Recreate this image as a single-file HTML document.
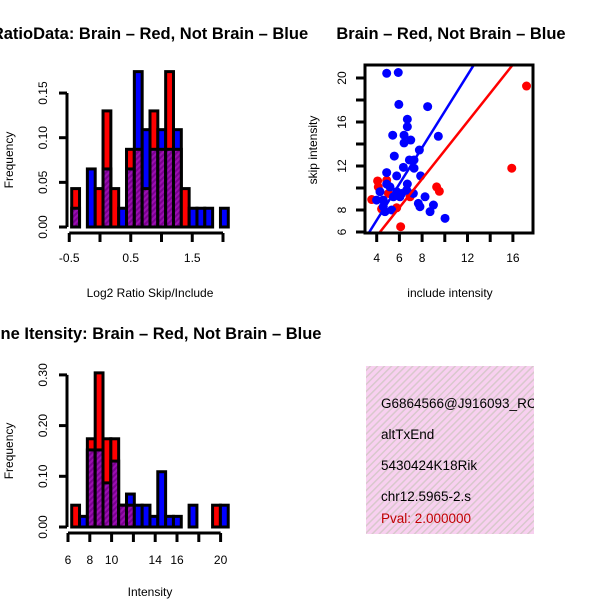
<!DOCTYPE html>
<html><head><meta charset="utf-8"><style>
body{margin:0;background:#fff}
svg{display:block;font-family:"Liberation Sans",Helvetica,sans-serif}
</style></head><body>
<svg id="s" width="600" height="600" viewBox="0 0 600 600" xmlns="http://www.w3.org/2000/svg">
<defs>
<pattern id="purp" patternUnits="userSpaceOnUse" width="4" height="4" patternTransform="rotate(45)">
<rect width="4" height="4" fill="#9a10b0"/><rect width="2" height="4" fill="#7a0090"/></pattern>
<pattern id="pink" patternUnits="userSpaceOnUse" width="5" height="5" patternTransform="rotate(45)">
<rect width="5" height="5" fill="#f8d0f0"/><rect width="1.5" height="5" fill="#d8c8cc"/></pattern>
<clipPath id="scClip"><rect x="365" y="65" width="168" height="168"/></clipPath>
<clipPath id="txClip"><rect x="366" y="366" width="168" height="168"/></clipPath>
</defs>
<g id="h1"></g>
<g id="sc"></g>
<g id="h2"></g>
<g>
<rect x="366" y="366" width="168" height="168" fill="url(#pink)"/>
<g clip-path="url(#txClip)" font-size="13.5">
<text x="381" y="408">G6864566@J916093_RC</text>
<text x="381" y="439">altTxEnd</text>
<text x="381" y="470">5430424K18Rik</text>
<text x="381" y="501">chr12.5965-2.s</text>
<text x="381" y="523" fill="#c00000">Pval: 2.000000</text>
</g></g>
</svg>
<script>
// Ratio histogram data
const h1Red=[0.043,0,0,0.043,0.13,0.043,0,0.087,0.087,0.043,0.13,0.087,0.174,0.087,0.043,0,0,0,0,0];
const h1Blue=[0.021,0,0.065,0,0.065,0,0.021,0.065,0.174,0.109,0.087,0.109,0.087,0.109,0,0.021,0.021,0.021,0,0.021];
const h1Start=-0.46, h1Width=0.1273;
const h1XTicks=[-0.5,0,0.5,1,1.5,2];
const h1XLabels=["-0.5","","0.5","","1.5",""];
const h1YTicks=[0,0.05,0.10,0.15];
const h1YLabels=["0.00","0.05","0.10","0.15"];
// Intensity histogram data
const h2Red=[0.043,0,0.174,0.304,0.174,0.174,0.043,0.043,0,0,0,0,0,0,0,0,0,0,0.043,0];
const h2Blue=[0,0.021,0.152,0.152,0.087,0.13,0.043,0.065,0.043,0.043,0.021,0.109,0.021,0.021,0,0.043,0,0,0,0.043];
const h2Start=6.34, h2Width=0.718;
const h2XTicks=[6,8,10,12,14,16,18,20];
const h2XLabels=["6","8","10","","14","16","","20"];
const h2YTicks=[0,0.1,0.2,0.3];
const h2YLabels=["0.00","0.10","0.20","0.30"];
// Scatter data
const blueX=[4.88,5.90,5.95,8.49,6.70,6.70,5.41,6.41,7.0,6.41,9.43,7.76,5.55,6.88,7.29,6.35,7.29,4.88,5.76,7.87,6.70,4.88,4.29,5.17,5.76,6.20,5.47,4.58,3.99,7.23,8.26,7.67,7.81,9.0,8.7,4.58,5.32,4.73,10.02,6.05,6.64];
const blueY=[20.43,20.5,17.6,17.4,16.25,15.57,14.8,14.8,14.36,14.1,14.7,13.45,12.9,12.55,12.55,11.88,11.8,11.4,11.1,11.1,10.36,10.36,9.66,10.1,9.66,9.5,9.2,8.9,8.9,9.5,9.2,8.6,8.3,8.45,7.85,8.3,8.0,7.85,7.24,9.2,9.8];
const redX=[3.56,4.08,4.88,4.14,5.03,6.94,9.28,9.52,6.11,15.9,17.2,4.43,5.76];
const redY=[8.95,10.64,10.7,10.1,9.5,9.2,10.1,9.7,6.48,11.8,19.27,8.1,8.2];
const blueFit=[1.65,0.47];
const redFit=[1.30,0.42];
const scXTicks=[4,6,8,10,12,14,16];
const scXLabels=["4","6","8","","12","","16"];
const scYTicks=[6,8,10,12,14,16,18,20];
const scYLabels=["6","8","","12","","16","","20"];

const NS="http://www.w3.org/2000/svg";
function mk(p,tag,a,txt){const e=document.createElementNS(NS,tag);for(const k in a)e.setAttribute(k,a[k]);if(txt!==undefined)e.textContent=txt;p.appendChild(e);return e;}

function hist(g,red,blue,start,w,xs,ys,xT,xL,yT,yL,axY,tickY,title,titleY,xlab,xlabY,bname){
  for(let i=0;i<red.length;i++){
    const r=red[i],b=blue[i];const x0=xs(start+i*w),x1=xs(start+(i+1)*w);
    const hi=Math.max(r,b),lo=Math.min(r,b);
    if(hi>0){
      const e=mk(g,'rect',{x:x0,y:ys(hi),width:x1-x0,height:ys(0)-ys(hi),fill:r>=b?'#ff0000':'#0000ff',stroke:'#000','stroke-width':3});
      
      
    }
    if(lo>0){
      const e=mk(g,'rect',{x:x0,y:ys(lo),width:x1-x0,height:ys(0)-ys(lo),fill:'url(#purp)',stroke:'#000','stroke-width':3});
      
      
    }
  }
  const ya=mk(g,'line',{x1:67,x2:67,y1:ys(yT[0]),y2:ys(yT[yT.length-1]),stroke:'#000','stroke-width':3});
  
  
  yT.forEach((v,i)=>{mk(g,'line',{x1:59,x2:67,y1:ys(v),y2:ys(v),stroke:'#000','stroke-width':3});
    const t=mk(g,'text',{x:47,y:ys(v),'font-size':12,'text-anchor':'middle',transform:`rotate(-90 47 ${ys(v)})`},yL[i]);
    
    });
  const xa=mk(g,'line',{x1:xs(xT[0]),x2:xs(xT[xT.length-1]),y1:axY,y2:axY,stroke:'#000','stroke-width':3});
  
  
  xT.forEach((v,i)=>{mk(g,'line',{x1:xs(v),x2:xs(v),y1:axY,y2:axY+9,stroke:'#000','stroke-width':3});
    const t=mk(g,'text',{x:xs(v),y:tickY,'font-size':12,'text-anchor':'middle'},xL[i]);
    
    });
  const tt=mk(g,'text',{x:150,y:titleY,'font-size':16.5,'font-weight':'bold','text-anchor':'middle'},title);
  
  
  const xl=mk(g,'text',{x:150,y:xlabY,'font-size':12,'text-anchor':'middle'},xlab);
  
  
  const cy=(ys(yT[0])+ys(yT[yT.length-1]))/2;
  const yl=mk(g,'text',{x:13,y:cy,'font-size':12,'text-anchor':'middle',transform:`rotate(-90 13 ${cy})`},'Frequency');
  
  
}
const h1x=v=>100+v*61.5, h1y=v=>227-v*893;
hist(document.getElementById('h1'),h1Red,h1Blue,h1Start,h1Width,h1x,h1y,h1XTicks,h1XLabels,h1YTicks,h1YLabels,233,262,'RatioData: Brain \u2013 Red, Not Brain \u2013 Blue',39,'Log2 Ratio Skip/Include',297,'ratio');
const h2x=v=>68+(v-6)*10.9, h2y=v=>527-v*507;
hist(document.getElementById('h2'),h2Red,h2Blue,h2Start,h2Width,h2x,h2y,h2XTicks,h2XLabels,h2YTicks,h2YLabels,533,564,'Gene Itensity: Brain \u2013 Red, Not Brain \u2013 Blue',339,'Intensity',596,'intensity');

// scatter
const sg=document.getElementById('sc');
const sx=v=>376.7+(v-4)*11.35, sy=v=>232-(v-6)*11;
const cg=mk(sg,'g',{'clip-path':'url(#scClip)'});
redX.forEach((v,i)=>{const c=mk(cg,'circle',{cx:sx(v),cy:sy(redY[i]),r:4.5,fill:'#ff0000'});
  
  });
blueX.forEach((v,i)=>{const c=mk(cg,'circle',{cx:sx(v),cy:sy(blueY[i]),r:4.5,fill:'#0000ff'});
  
  });
[[blueFit,'#0000ff','blue-fit-line'],[redFit,'#ff0000','red-fit-line']].forEach(([f,col,n])=>{
  const l=mk(cg,'line',{x1:sx(2),y1:sy(f[0]*2+f[1]),x2:sx(20),y2:sy(f[0]*20+f[1]),stroke:col,'stroke-width':2.5});
  
  });
const bx=mk(sg,'rect',{x:365,y:65,width:168,height:168,fill:'none',stroke:'#000','stroke-width':3});


scXTicks.forEach((v,i)=>{mk(sg,'line',{x1:sx(v),x2:sx(v),y1:233,y2:242,stroke:'#000','stroke-width':3});
  const t=mk(sg,'text',{x:sx(v),y:262,'font-size':12,'text-anchor':'middle'},scXLabels[i]);
  
  });
scYTicks.forEach((v,i)=>{mk(sg,'line',{x1:356,x2:365,y1:sy(v),y2:sy(v),stroke:'#000','stroke-width':3});
  const t=mk(sg,'text',{x:346,y:sy(v),'font-size':12,'text-anchor':'middle',transform:`rotate(-90 346 ${sy(v)})`},scYLabels[i]);
  
  });
const st=mk(sg,'text',{x:451,y:39,'font-size':16.5,'font-weight':'bold','text-anchor':'middle'},'Brain \u2013 Red, Not Brain \u2013 Blue');


const sxl=mk(sg,'text',{x:450,y:297,'font-size':12,'text-anchor':'middle'},'include intensity');


const syl=mk(sg,'text',{x:317,y:150,'font-size':12,'text-anchor':'middle',transform:'rotate(-90 317 150)'},'skip intensity');


</script>
</body></html>
